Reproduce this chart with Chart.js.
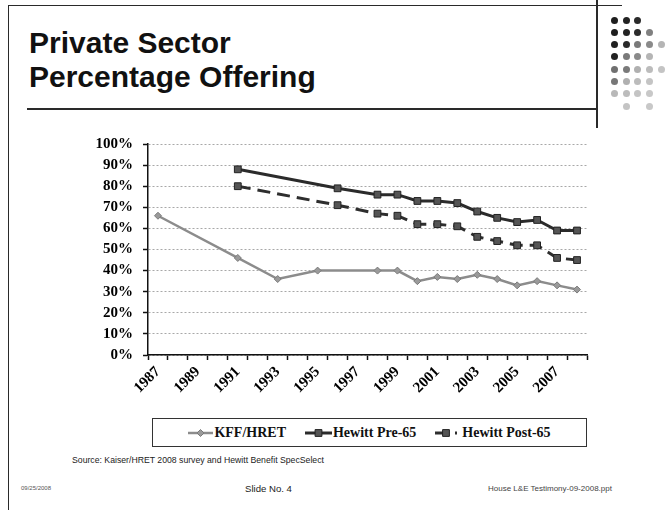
<!DOCTYPE html>
<html>
<head>
<meta charset="utf-8">
<title>Private Sector Percentage Offering</title>
<script src="https://cdn.jsdelivr.net/npm/chart.js@4/dist/chart.umd.min.js"></script>
<style>
  html, body { margin: 0; padding: 0; background: #fff; }
  #slide {
    position: relative; width: 672px; height: 510px; overflow: hidden;
    font-family: "Liberation Sans", Arial, sans-serif; color: #111;
  }
  .rule { position: absolute; background: #2a2a2a; }
  h1 {
    position: absolute; left: 29px; top: 26px; margin: 0;
    font-size: 30px; line-height: 34px; font-weight: bold; color: #111;
  }
  .dot { position: absolute; width: 7px; height: 7px; border-radius: 50%; }
  #chartBox { position: absolute; left: 60px; top: 125px; width: 540px; height: 290px; }
  #legend {
    position: absolute; left: 152px; top: 418px; width: 433px; height: 27px;
    border: 1px solid #333; display: flex; align-items: center; justify-content: center;
    gap: 19px; font-family: "Liberation Serif", "Times New Roman", serif;
    font-weight: bold; font-size: 14px; color: #111;
  }
  #legend .item { display: flex; align-items: center; }
  #legend canvas { display: block; }
  .foot { position: absolute; white-space: nowrap; color: #222; }
</style>
</head>
<body>
<div id="slide">
  <div class="rule" style="left:8px; top:5px; width:614px; height:1px;"></div>
  <div class="rule" style="left:8px; top:5px; width:1px; height:505px;"></div>
  <div class="rule" style="left:27px; top:108px; width:570px; height:2px;"></div>
  <div class="rule" style="left:596px; top:0; width:2px; height:128px;"></div>

  <h1>Private Sector<br>Percentage Offering</h1>

  <div id="dots"></div>

  <div id="chartBox"><canvas id="offeringChart"></canvas></div>

  <div id="legend"></div>

  <div class="foot" style="left:72px; top:455px; font-size:8.7px; line-height:10px;">Source: Kaiser/HRET 2008 survey and Hewitt Benefit SpecSelect</div>
  <div class="foot" style="left:21px; top:485px; font-size:6px; line-height:7px; color:#555;">09/25/2008</div>
  <div class="foot" style="left:245px; top:483px; font-size:9.6px; line-height:11px;">Slide No. 4</div>
  <div class="foot" style="left:488px; top:484px; font-size:8px; line-height:9px; color:#444;">House L&amp;E Testimony-09-2008.ppt</div>
</div>

<script>
// Survey years, one category per year
const years = ['1987', '1988', '1989', '1990', '1991', '1992', '1993', '1994', '1995', '1996', '1997',
               '1998', '1999', '2000', '2001', '2002', '2003', '2004', '2005', '2006', '2007', '2008'];

// Percent of private sector employers offering retiree coverage (null = no survey that year)
const kffHret = [66, null, null, null, 46, null, 36, null, 40, null, null,
                 40, 40, 35, 37, 36, 38, 36, 33, 35, 33, 31];
const hewittPre65 = [null, null, null, null, 88, null, null, null, null, 79, null,
                     76, 76, 73, 73, 72, 68, 65, 63, 64, 59, 59];
const hewittPost65 = [null, null, null, null, 80, null, null, null, null, 71, null,
                      67, 66, 62, 62, 61, 56, 54, 52, 52, 46, 45];

const yTicks = [0, 10, 20, 30, 40, 50, 60, 70, 80, 90, 100];

// Logo dot grid in the top right corner
const dotShades = [
  ['#1e1e1e', '#222', '#2a2a2a'],
  ['#1e1e1e', '#222', '#2c2c2c', '#808080'],
  ['#202020', '#2a2a2a', '#7a7a7a', '#8a8a8a', '#b5b5b5'],
  ['#222', '#7a7a7a', '#8a8a8a', '#b5b5b5'],
  ['#707070', '#7a7a7a', '#b0b0b0', '#bcbcbc', '#c4c4c4'],
  ['#777', '#b0b0b0', '#bcbcbc', '#c4c4c4'],
  ['#b8b8b8', '#bcbcbc', '#c4c4c4', '#c8c8c8'],
  [null, '#c4c4c4', null, '#c8c8c8']
];
const dotsEl = document.getElementById('dots');
dotShades.forEach(function(row, r) {
  row.forEach(function(shade, c) {
    if (!shade) return;
    const d = document.createElement('div');
    d.className = 'dot';
    d.style.left = (611 + c * 11.7) + 'px';
    d.style.top = (16.5 + r * 12.3) + 'px';
    d.style.background = shade;
    dotsEl.appendChild(d);
  });
});

const serif = '"Liberation Serif", "Times New Roman", serif';

const chart = new Chart(document.getElementById('offeringChart'), {
  type: 'line',
  data: {
    labels: years,
    datasets: [
      {
        label: 'KFF/HRET',
        data: kffHret,
        borderColor: '#8c8c8c',
        borderWidth: 2.5,
        pointStyle: 'rectRot',
        pointRadius: 3.5,
        pointBackgroundColor: '#9a9a9a',
        pointBorderColor: '#7a7a7a',
        pointBorderWidth: 1
      },
      {
        label: 'Hewitt Pre-65',
        data: hewittPre65,
        borderColor: '#2b2b2b',
        borderWidth: 3,
        pointStyle: 'rect',
        pointRadius: 4.8,
        pointBackgroundColor: '#555',
        pointBorderColor: '#222',
        pointBorderWidth: 1
      },
      {
        label: 'Hewitt Post-65',
        data: hewittPost65,
        borderColor: '#2e2e2e',
        borderWidth: 3,
        borderDash: [13, 7],
        pointStyle: 'rect',
        pointRadius: 4.8,
        pointBackgroundColor: '#555',
        pointBorderColor: '#222',
        pointBorderWidth: 1
      }
    ]
  },
  options: {
    responsive: true,
    maintainAspectRatio: false,
    animation: false,
    spanGaps: true,
    elements: { line: { tension: 0 } },
    layout: { padding: { top: 15, right: 13, left: 0, bottom: 0 } },
    plugins: {
      legend: { display: false },
      tooltip: { enabled: false }
    },
    scales: {
      x: {
        type: 'category',
        offset: true,
        grid: {
          offset: true,
          drawOnChartArea: false,
          drawTicks: true,
          tickLength: 5,
          tickColor: '#111',
          tickWidth: 1.5
        },
        border: { display: true, color: '#111', width: 1.5 },
        ticks: {
          autoSkip: false,
          minRotation: 45,
          maxRotation: 45,
          padding: 3,
          color: '#000',
          font: { family: serif, size: 15, weight: 'bold' },
          callback: function(value, index) {
            return index % 2 === 0 ? this.getLabelForValue(value) : '';
          }
        },
        afterFit: function(scale) { scale.height = 60; }
      },
      y: {
        min: 0,
        max: 100,
        afterBuildTicks: function(scale) {
          scale.ticks = yTicks.map(function(v) { return { value: v }; });
        },
        grid: {
          color: '#a8a8a8',
          lineWidth: 1,
          drawTicks: true,
          tickLength: 5,
          tickColor: '#111',
          tickWidth: 1.5,
          tickBorderDash: []
        },
        // dotted horizontal gridlines, solid axis line
        border: { display: true, color: '#111', width: 1.5, dash: [2, 2] },
        ticks: {
          padding: 10,
          color: '#000',
          font: { family: serif, size: 15, weight: 'bold' },
          callback: function(value) { return value + '%'; }
        },
        afterFit: function(scale) { scale.width = 88; }
      }
    }
  }
});

// Legend below the chart, one line-and-marker sample per series
function drawSample(ds, width) {
  const c = document.createElement('canvas');
  c.width = width;
  c.height = 14;
  const ctx = c.getContext('2d');
  ctx.strokeStyle = ds.borderColor;
  ctx.lineWidth = ds.borderWidth;
  ctx.setLineDash(ds.borderDash || []);
  ctx.beginPath();
  ctx.moveTo(0, 7);
  ctx.lineTo(width, 7);
  ctx.stroke();
  ctx.setLineDash([]);
  const cx = width / 2;
  const r = ds.pointRadius;
  ctx.fillStyle = ds.pointBackgroundColor;
  ctx.strokeStyle = ds.pointBorderColor;
  ctx.lineWidth = 1;
  ctx.beginPath();
  if (ds.pointStyle === 'rectRot') {
    ctx.moveTo(cx, 7 - r);
    ctx.lineTo(cx + r, 7);
    ctx.lineTo(cx, 7 + r);
    ctx.lineTo(cx - r, 7);
    ctx.closePath();
  } else {
    const s = r / Math.SQRT2;
    ctx.rect(cx - s, 7 - s, 2 * s, 2 * s);
  }
  ctx.fill();
  ctx.stroke();
  return c;
}

const legendEl = document.getElementById('legend');
const sampleWidths = [25, 27, 22];
chart.data.datasets.forEach(function(ds, i) {
  const item = document.createElement('div');
  item.className = 'item';
  const sample = drawSample(ds, sampleWidths[i]);
  sample.style.marginRight = i === 2 ? '5px' : '1px';
  item.appendChild(sample);
  const text = document.createElement('span');
  text.textContent = ds.label;
  item.appendChild(text);
  legendEl.appendChild(item);
});
</script>
</body>
</html>
